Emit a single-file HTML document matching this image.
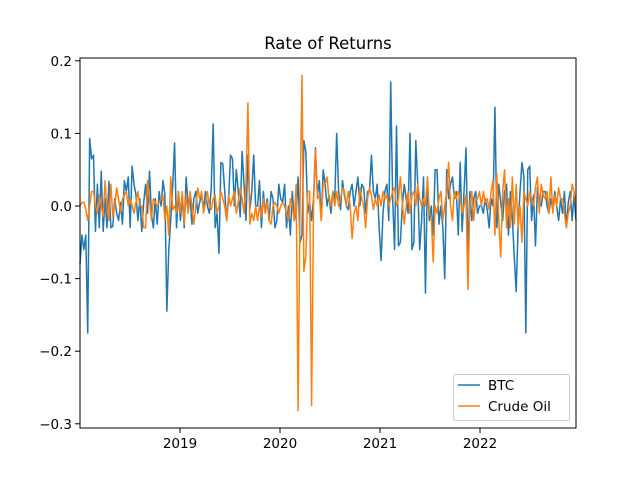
<!DOCTYPE html>
<html><head><meta charset="utf-8"><style>body{margin:0;background:#fff}svg{display:block;font-family:"DejaVu Sans","Liberation Sans",sans-serif}</style></head>
<body>
<svg id="chart" width="640" height="480" viewBox="0 0 640 480">
<rect width="640" height="480" fill="#fff"/>
<text x="328" y="49" text-anchor="middle" font-size="16.5">Rate of Returns</text>
<g id="ticks"></g>
<g id="series"></g>
<rect x="80" y="58" width="496" height="370" fill="none" stroke="#000" stroke-width="1"/>
<g>
<rect x="453.5" y="374.5" width="116" height="46" rx="2" fill="#fff" fill-opacity="0.8" stroke="#ccc"/>
<line x1="458" y1="385" x2="480" y2="385" stroke="#1f77b4" stroke-width="1.5"/>
<text x="488" y="390" font-size="13.5">BTC</text>
<line x1="458" y1="406" x2="480" y2="406" stroke="#ff7f0e" stroke-width="1.5"/>
<text x="488" y="411" font-size="13.5">Crude Oil</text>
</g>
</svg>
<script>
const yTicks=[0.2,0.1,0.0,-0.1,-0.2,-0.3];
const yTickLabels=["0.2","0.1","0.0","−0.1","−0.2","−0.3"];
const xTickYears=[2019,2020,2021,2022];
const btc=[
-0.08,-0.04,-0.06,-0.04,-0.175,0.093,0.065,0.07,-0.035,0.03,-0.03,0.048,-0.035,
0.01,-0.03,0.034,-0.03,-0.028,0.01,-0.01,-0.02,0.005,-0.025,0.035,0.02,0.04,
-0.03,0.055,0.03,0.015,-0.02,0.01,-0.035,0.005,0.03,-0.01,0.048,-0.01,-0.03,0.01,
-0.025,0.02,0.0,0.035,0.015,-0.145,-0.06,-0.02,0.025,0.087,-0.03,0.02,
-0.02,0.01,-0.03,0.04,0.0,0.01,-0.025,0.01,0.02,-0.01,0.005,0.015,-0.005,
0.02,0.0,-0.01,0.025,0.113,-0.03,-0.01,-0.065,0.06,0.058,0.02,-0.02,0.01,
0.07,0.065,0.0,0.05,0.02,-0.015,0.075,0.03,-0.02,0.07,-0.005,0.02,0.07,0.0,
0.0,0.035,-0.03,0.02,-0.01,0.01,-0.02,0.02,0.01,-0.03,-0.02,0.03,
0.01,0.005,0.03,-0.03,0.0,-0.04,0.02,-0.02,-0.01,0.04,-0.05,-0.04,0.09,0.075,
-0.01,0.005,-0.02,0.01,0.08,0.015,0.035,-0.02,0.05,0.03,0.0,0.015,
-0.01,0.02,0.01,0.1,0.02,-0.005,0.035,0.015,0.0,-0.005,0.02,0.03,0.0,0.02,
0.04,0.0,0.03,0.025,-0.01,0.02,0.02,0.07,0.02,0.01,0.03,-0.03,
-0.075,-0.01,0.02,0.03,-0.02,0.171,0.01,-0.06,0.11,-0.055,-0.05,0.0,0.03,
0.01,-0.01,0.1,-0.06,-0.05,0.09,0.03,-0.06,-0.02,0.04,-0.12,0.04,-0.02,
0.0,-0.04,0.05,0.05,-0.025,0.0,-0.03,-0.1,0.05,0.01,0.03,0.04,0.01,0.02,
-0.04,0.06,-0.035,0.02,0.08,-0.065,0.02,-0.02,0.01,0.02,-0.01,0.0,
0.0,-0.01,0.01,-0.005,-0.03,0.01,0.0,0.136,-0.03,0.03,0.005,-0.02,0.02,
0.03,-0.04,0.02,-0.015,-0.07,-0.118,-0.03,0.02,0.06,0.04,-0.175,0.05,0.055,
-0.02,0.015,-0.055,0.025,0.01,0.0,0.02,0.02,0.0,-0.01,0.01,-0.005,0.02,
0.0,-0.02,0.01,-0.01,0.02,-0.03,0.005,0.02,-0.02,0.015,-0.02];
const oil=[
0.0,0.005,0.005,-0.005,-0.02,0.0,0.02,0.02,0.0,-0.01,0.015,0.0,-0.015,
0.035,-0.005,-0.02,0.03,-0.015,0.0,0.025,0.01,-0.01,0.01,0.015,0.02,0.0,
0.01,0.0,-0.01,0.005,0.02,0.0,0.0,-0.03,-0.03,0.035,0.01,-0.02,0.01,0.005,
0.0,0.005,0.01,0.015,-0.02,0.0,-0.04,0.04,-0.005,0.0,-0.01,0.02,
-0.01,0.02,-0.025,0.015,-0.01,0.02,0.0,-0.025,0.0,0.025,0.01,0.02,-0.01,
0.005,0.02,0.0,-0.005,0.01,0.015,-0.01,0.0,0.02,0.01,0.0,-0.02,0.015,
0.0,0.01,0.02,-0.01,0.005,0.025,0.01,-0.01,0.03,0.142,-0.025,-0.01,-0.02,0.0,
-0.02,0.0,-0.015,0.01,-0.01,0.005,-0.02,-0.025,0.0,0.005,0.0,-0.01,
0.0,0.005,0.0,-0.01,-0.02,0.01,0.0,-0.02,0.03,-0.282,0.0,0.18,-0.09,-0.07,
0.02,0.02,-0.275,0.0,0.078,0.01,0.015,-0.02,0.03,0.03,0.04,0.01,
0.0,0.02,0.0,0.02,0.0,0.01,0.025,0.02,0.0,0.02,0.0,-0.045,-0.01,0.0,
-0.02,0.025,0.01,0.0,-0.03,0.01,0.025,0.015,-0.005,0.01,0.0,0.015,
0.0,0.02,0.01,0.015,0.0,0.01,0.02,0.025,0.0,0.01,0.04,0.005,-0.025,
0.0,0.02,-0.01,0.015,0.02,0.0,0.03,0.01,0.0,0.01,0.0,0.04,-0.01,
-0.015,-0.077,0.0,-0.01,0.01,0.02,-0.02,0.0,0.02,0.06,0.0,-0.02,0.02,0.01,
0.02,0.01,-0.01,0.0,0.015,-0.115,0.0,0.02,-0.02,0.01,0.01,0.02,
0.0,0.02,0.005,0.01,-0.005,0.02,0.035,-0.04,0.045,-0.02,-0.07,0.02,0.05,
-0.03,0.01,-0.03,0.04,-0.025,0.03,-0.03,0.0,-0.05,0.02,0.01,0.0,0.02,
0.01,0.0,0.025,0.04,-0.01,0.03,0.015,0.01,0.02,-0.01,0.04,-0.01,0.015,
0.0,0.025,0.01,0.01,-0.01,-0.03,-0.01,0.0,0.03,0.02,0.0];
const NS="http://www.w3.org/2000/svg";
const X0=80,X1=576,Y0=206,PX=726;
function yScale(v){return Y0-v*PX;}
function xIndex(i,n){return X0+i*(X1-X0)/(n-1);}
function xYear(y){return 180+(y-2019)*100;}
const tg=document.getElementById('ticks');
yTicks.forEach((t,k)=>{
  const y=yScale(t);
  const l=document.createElementNS(NS,'line');
  l.setAttribute('x1',75);l.setAttribute('x2',80);l.setAttribute('y1',y);l.setAttribute('y2',y);l.setAttribute('stroke','#000');
  
  
  tg.appendChild(l);
  const tx=document.createElementNS(NS,'text');
  tx.setAttribute('x',72);tx.setAttribute('y',y+5);tx.setAttribute('text-anchor','end');tx.setAttribute('font-size','13.5');
  tx.textContent=yTickLabels[k];
  
  
  tg.appendChild(tx);
});
xTickYears.forEach(yr=>{
  const x=xYear(yr);
  const l=document.createElementNS(NS,'line');
  l.setAttribute('x1',x);l.setAttribute('x2',x);l.setAttribute('y1',428);l.setAttribute('y2',433);l.setAttribute('stroke','#000');
  
  
  tg.appendChild(l);
  const tx=document.createElementNS(NS,'text');
  tx.setAttribute('x',x);tx.setAttribute('y',448);tx.setAttribute('text-anchor','middle');tx.setAttribute('font-size','13.5');
  tx.textContent=String(yr);
  
  
  tg.appendChild(tx);
});
const sg=document.getElementById('series');
function drawLine(arr,color,name){
  const p=document.createElementNS(NS,'polyline');
  p.setAttribute('points',arr.map((v,i)=>xIndex(i,arr.length).toFixed(2)+','+yScale(v).toFixed(2)).join(' '));
  p.setAttribute('fill','none');p.setAttribute('stroke',color);p.setAttribute('stroke-width','1.5');p.setAttribute('stroke-linejoin','round');
  
  
  sg.appendChild(p);
}
drawLine(btc,'#1f77b4','btc-line');
drawLine(oil,'#ff7f0e','crude-oil-line');
</script>
</body></html>
